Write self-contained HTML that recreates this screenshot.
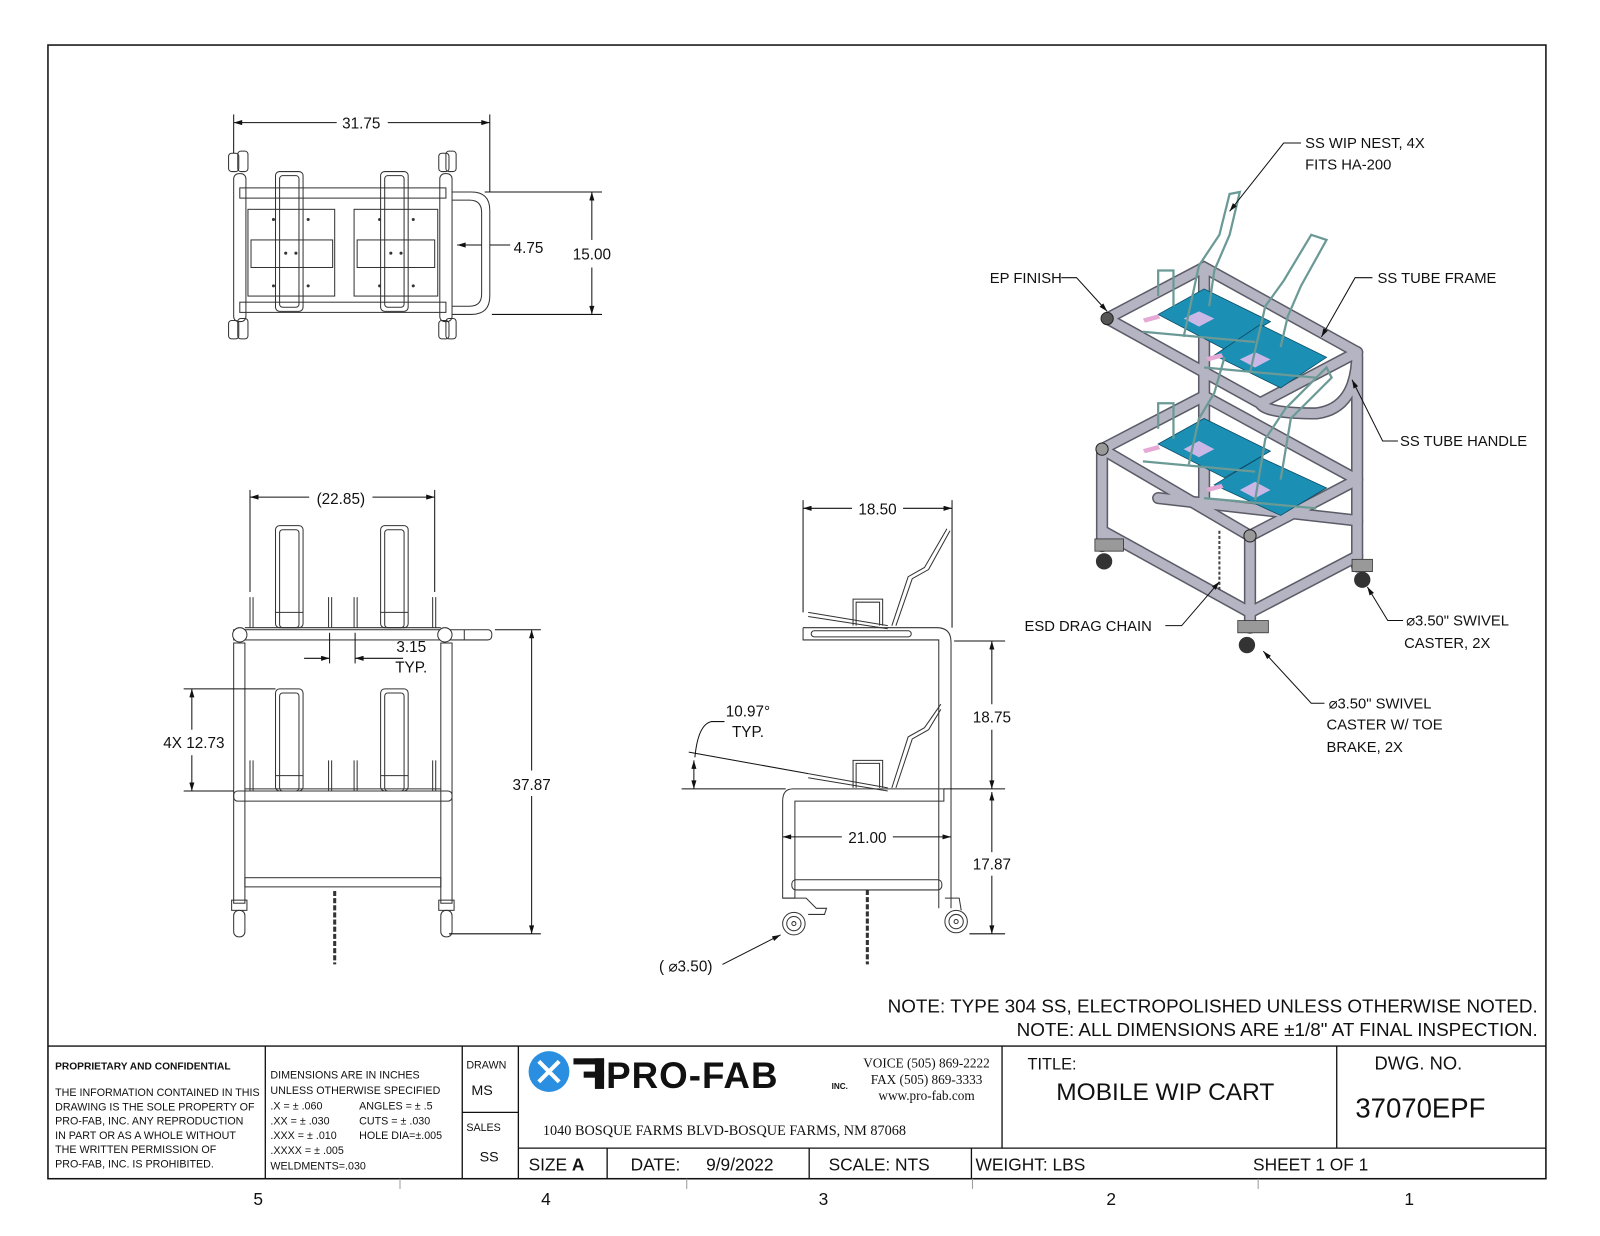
<!DOCTYPE html>
<html><head><meta charset="utf-8"><style>
html,body{margin:0;padding:0;background:#fff}
svg{display:block}
text{font-family:"Liberation Sans",sans-serif;fill:#111}
.s{font-family:"Liberation Serif",serif}
</style></head><body>
<svg width="1600" height="1236" viewBox="0 0 1568 1211" xmlns="http://www.w3.org/2000/svg" xml:space="preserve">
<defs>
<marker id="a" viewBox="0 0 10 6" refX="10" refY="3" markerWidth="12" markerHeight="5" orient="auto-start-reverse" markerUnits="userSpaceOnUse"><path d="M0,0L10,3L0,6z" fill="#111"/></marker>
</defs>
<rect width="1568" height="1211" fill="#fff"/>
<rect x="47" y="44" width="1468" height="1111" fill="none" stroke="#111" stroke-width="1.5"/>

<!-- TOP VIEW -->
<g fill="none" stroke="#333" stroke-width="1">
<rect x="229" y="170" width="12" height="145" rx="5"/>
<rect x="431" y="170" width="12" height="145" rx="5"/>
<rect x="235" y="184" width="202" height="10"/>
<rect x="235" y="296" width="202" height="10"/>
<path d="M443,188H462Q480,188 480,206V290Q480,308 462,308H443"/>
<path d="M443,196H460Q472,196 472,208V288Q472,300 460,300H443"/>
<rect x="243" y="205" width="85" height="85"/>
<rect x="347" y="205" width="82" height="85"/>
<rect x="246" y="235" width="80" height="27"/>
<rect x="350" y="235" width="76" height="27"/>
<rect x="270" y="168" width="27" height="137" rx="4"/>
<rect x="274" y="172" width="19" height="129" rx="3"/>
<rect x="373" y="168" width="27" height="137" rx="4"/>
<rect x="377" y="172" width="19" height="129" rx="3"/>
<rect x="224" y="150" width="10" height="18" rx="3"/><rect x="233" y="148" width="10" height="20" rx="3"/>
<rect x="430" y="150" width="10" height="18" rx="3"/><rect x="437" y="148" width="10" height="20" rx="3"/>
<rect x="224" y="314" width="10" height="18" rx="3"/><rect x="233" y="312" width="10" height="20" rx="3"/>
<rect x="430" y="314" width="10" height="18" rx="3"/><rect x="437" y="312" width="10" height="20" rx="3"/>
</g>
<g fill="#333"><circle cx="268" cy="215" r="1.5"/><circle cx="302" cy="215" r="1.5"/><circle cx="268" cy="280" r="1.5"/><circle cx="302" cy="280" r="1.5"/><circle cx="280" cy="248" r="1.5"/><circle cx="290" cy="248" r="1.5"/>
<circle cx="372" cy="215" r="1.5"/><circle cx="405" cy="215" r="1.5"/><circle cx="372" cy="280" r="1.5"/><circle cx="405" cy="280" r="1.5"/><circle cx="383" cy="248" r="1.5"/><circle cx="393" cy="248" r="1.5"/></g>
<g stroke="#111" stroke-width="1" fill="none">
<line x1="229" y1="112" x2="229" y2="150"/><line x1="480" y1="112" x2="480" y2="188"/>
<line x1="229" y1="120" x2="330" y2="120" marker-start="url(#a)"/><line x1="380" y1="120" x2="480" y2="120" marker-end="url(#a)"/>
<line x1="475" y1="188" x2="590" y2="188"/><line x1="482" y1="308" x2="590" y2="308"/>
<line x1="580" y1="188" x2="580" y2="235" marker-start="url(#a)"/><line x1="580" y1="262" x2="580" y2="308" marker-end="url(#a)"/>
<line x1="448" y1="240" x2="472" y2="240" marker-start="url(#a)"/><line x1="480" y1="240" x2="500" y2="240"/>
</g>
<text x="354" y="126" font-size="15" text-anchor="middle">31.75</text>
<text x="580" y="254" font-size="15" text-anchor="middle">15.00</text>
<text x="518" y="248" font-size="15" text-anchor="middle">4.75</text>

<!-- FRONT VIEW -->
<g fill="none" stroke="#333" stroke-width="1">
<rect x="229" y="617" width="212" height="10"/>
<path d="M441,617H478Q482,617 482,622Q482,627 478,627H441"/><line x1="455" y1="617" x2="455" y2="627"/>
<circle cx="235" cy="622" r="7" fill="#fff"/><circle cx="436" cy="622" r="7" fill="#fff"/>
<rect x="229" y="630" width="11" height="255"/>
<rect x="432" y="630" width="11" height="255"/>
<rect x="229" y="775" width="214" height="10" rx="4"/>
<rect x="240" y="860" width="192" height="9"/>
<rect x="270" y="515" width="27" height="100" rx="4"/><rect x="274" y="519" width="19" height="96" rx="3"/><line x1="270" y1="600" x2="297" y2="600"/>
<rect x="373" y="515" width="27" height="100" rx="4"/><rect x="377" y="519" width="19" height="96" rx="3"/><line x1="373" y1="600" x2="400" y2="600"/>
<rect x="270" y="675" width="27" height="100" rx="4"/><rect x="274" y="679" width="19" height="96" rx="3"/><line x1="270" y1="760" x2="297" y2="760"/>
<rect x="373" y="675" width="27" height="100" rx="4"/><rect x="377" y="679" width="19" height="96" rx="3"/><line x1="373" y1="760" x2="400" y2="760"/>
<path d="M245,615V585M248,615V585M322,615V585M325,615V585M347,615V585M350,615V585M424,615V585M427,615V585"/>
<path d="M245,775V745M248,775V745M322,775V745M325,775V745M347,775V745M350,775V745M424,775V745M427,775V745"/>
<line x1="240" y1="615" x2="432" y2="615"/><line x1="240" y1="773" x2="432" y2="773"/>
<rect x="227" y="882" width="15" height="10"/><rect x="229" y="892" width="11" height="26" rx="5"/>
<rect x="430" y="882" width="15" height="10"/><rect x="432" y="892" width="11" height="26" rx="5"/>
</g>
<line x1="328" y1="873" x2="328" y2="945" stroke="#333" stroke-width="3" stroke-dasharray="5,2"/>
<g stroke="#111" stroke-width="1" fill="none">
<line x1="245" y1="480" x2="245" y2="580"/><line x1="426" y1="480" x2="426" y2="580"/>
<line x1="245" y1="487" x2="303" y2="487" marker-start="url(#a)"/><line x1="365" y1="487" x2="426" y2="487" marker-end="url(#a)"/>
<line x1="323" y1="620" x2="323" y2="650"/><line x1="348" y1="620" x2="348" y2="650"/>
<line x1="298" y1="645" x2="323" y2="645" marker-end="url(#a)"/><line x1="348" y1="645" x2="395" y2="645" marker-start="url(#a)"/>
<line x1="180" y1="675" x2="270" y2="675"/><line x1="180" y1="775" x2="229" y2="775"/>
<line x1="188" y1="675" x2="188" y2="715" marker-start="url(#a)"/><line x1="188" y1="740" x2="188" y2="775" marker-end="url(#a)"/>
<line x1="485" y1="617" x2="530" y2="617"/><line x1="440" y1="915" x2="530" y2="915"/>
<line x1="521" y1="617" x2="521" y2="755" marker-start="url(#a)"/><line x1="521" y1="780" x2="521" y2="915" marker-end="url(#a)"/>
</g>
<text x="334" y="494" font-size="15" text-anchor="middle">(22.85)</text>
<text x="403" y="639" font-size="15" text-anchor="middle">3.15</text>
<text x="403" y="659" font-size="15" text-anchor="middle">TYP.</text>
<text x="190" y="733" font-size="15" text-anchor="middle">4X 12.73</text>
<text x="521" y="774" font-size="15" text-anchor="middle">37.87</text>

<!-- SIDE VIEW -->
<g fill="none" stroke="#333" stroke-width="1">
<path d="M787,615H918Q932,615 932,629V890"/>
<path d="M787,615V627H920V890"/>
<rect x="795" y="618" width="98" height="6" rx="3"/>
<path d="M925,773H777Q767,773 767,785V880H779V785H925Z"/>
<rect x="776" y="862" width="147" height="10" rx="4"/>
<line x1="792" y1="600" x2="870" y2="613"/><line x1="792" y1="604" x2="870" y2="616"/>
<path d="M836,613V587H865V613M839,613V590H862V613"/>
<path d="M874,613L890,565L906,556L928,518M878,613L894,567L910,558L931,520"/>
<line x1="792" y1="758" x2="870" y2="772"/><line x1="792" y1="762" x2="870" y2="775"/>
<path d="M836,772V745H865V772M839,772V748H862V772"/>
<path d="M874,772L890,722L906,713L922,690M878,772L894,724L910,715L922,695"/>
<circle cx="778" cy="905" r="11"/><circle cx="778" cy="905" r="7"/><circle cx="778" cy="905" r="2"/>
<circle cx="937" cy="903" r="11"/><circle cx="937" cy="903" r="7"/><circle cx="937" cy="903" r="2"/>
<path d="M767,880H790L800,890H810L808,896H792"/><path d="M926,880H940L942,892"/>
</g>
<line x1="850" y1="872" x2="850" y2="945" stroke="#333" stroke-width="3" stroke-dasharray="5,2"/>
<g stroke="#111" stroke-width="1" fill="none">
<line x1="787" y1="490" x2="787" y2="600"/><line x1="933" y1="490" x2="933" y2="615"/>
<line x1="787" y1="498" x2="835" y2="498" marker-start="url(#a)"/><line x1="885" y1="498" x2="933" y2="498" marker-end="url(#a)"/>
<line x1="935" y1="628" x2="985" y2="628"/><line x1="925" y1="773" x2="985" y2="773"/><line x1="950" y1="915" x2="985" y2="915"/>
<line x1="972" y1="628" x2="972" y2="690" marker-start="url(#a)"/><line x1="972" y1="715" x2="972" y2="773" marker-end="url(#a)"/>
<line x1="972" y1="776" x2="972" y2="835" marker-start="url(#a)"/><line x1="972" y1="858" x2="972" y2="915" marker-end="url(#a)"/>
<line x1="767" y1="820" x2="825" y2="820" marker-start="url(#a)"/><line x1="875" y1="820" x2="932" y2="820" marker-end="url(#a)"/>
<line x1="668" y1="773" x2="770" y2="773"/><line x1="675" y1="737" x2="792" y2="758"/>
<line x1="680" y1="745" x2="680" y2="773" marker-start="url(#a)" marker-end="url(#a)"/>
<path d="M681,742Q684,710 697,707H710"/>
<line x1="708" y1="945" x2="765" y2="916" marker-end="url(#a)"/>
</g>
<text x="860" y="504" font-size="15" text-anchor="middle">18.50</text>
<text x="972" y="708" font-size="15" text-anchor="middle">18.75</text>
<text x="972" y="852" font-size="15" text-anchor="middle">17.87</text>
<text x="850" y="826" font-size="15" text-anchor="middle">21.00</text>
<text x="733" y="702" font-size="15" text-anchor="middle">10.97°</text>
<text x="733" y="722" font-size="15" text-anchor="middle">TYP.</text>
<text x="672" y="952" font-size="15" text-anchor="middle">( ⌀3.50)</text>

<!-- ISO VIEW -->
<g stroke-linecap="round" fill="none">
<g stroke="#5c5c68" stroke-width="12">
<path d="M1180,265V490"/>
<path d="M1080,445V535M1225,530V615M1330,350V555"/>
<path d="M1080,520L1225,600L1330,545"/>
<path d="M1135,488L1330,510"/>
<path d="M1085,312L1180,262L1330,345M1085,312L1235,395L1330,345"/>
<path d="M1235,395Q1240,405 1290,405Q1330,400 1330,345"/>
<path d="M1080,440L1180,388L1330,470M1080,440L1225,525L1330,470"/>
</g>
<g stroke="#b4b4c2" stroke-width="9">
<path d="M1180,265V490"/>
<path d="M1080,445V535M1225,530V615M1330,350V555"/>
<path d="M1080,520L1225,600L1330,545"/>
<path d="M1135,488L1330,510"/>
<path d="M1085,312L1180,262L1330,345M1085,312L1235,395L1330,345"/>
<path d="M1235,395Q1240,405 1290,405Q1330,400 1330,345"/>
<path d="M1080,440L1180,388L1330,470M1080,440L1225,525L1330,470"/>
</g>
</g>
<g fill="#1c8fb5" stroke="#0b4d66" stroke-width="0.8">
<path d="M1135,308L1180,283L1245,315L1200,342Z"/>
<path d="M1190,348L1235,318L1300,350L1255,380Z"/>
<path d="M1135,435L1180,410L1245,442L1200,468Z"/>
<path d="M1190,475L1235,448L1300,478L1255,505Z"/>
</g>
<g fill="#c9b8e6"><path d="M1160,312L1175,305L1190,312L1175,320Z"/><path d="M1215,352L1230,345L1245,352L1230,360Z"/><path d="M1160,440L1175,432L1190,440L1175,448Z"/><path d="M1215,480L1230,472L1245,480L1230,488Z"/></g>
<g fill="#e6a9d6"><path d="M1120,312L1135,308L1137,312L1122,316Z"/><path d="M1182,350L1197,346L1199,350L1184,354Z"/><path d="M1120,440L1135,436L1137,440L1122,444Z"/><path d="M1182,478L1197,474L1199,478L1184,482Z"/></g>
<g fill="none" stroke="#6b9a96" stroke-width="2.2">
<path d="M1160,330L1175,260L1195,230L1205,190L1215,188L1205,230L1190,265L1185,300"/>
<path d="M1225,365L1240,300L1258,275L1285,230L1300,235L1275,280L1262,310L1255,340"/>
<path d="M1165,455L1175,410L1190,385L1200,350"/>
<path d="M1230,490L1240,430L1260,400L1300,360L1305,370L1265,410L1255,470"/>
<path d="M1135,290V265H1150V300M1135,420V395H1150V430"/>
<path d="M1120,325L1230,335M1180,360L1290,370M1120,452L1230,462M1180,488L1290,498"/>
</g>
<g fill="#555" stroke="#222"><circle cx="1085" cy="312" r="6"/><circle cx="1080" cy="440" r="6" fill="#999"/><circle cx="1225" cy="525" r="6" fill="#999"/></g>
<g fill="#333"><circle cx="1082" cy="550" r="8"/><circle cx="1222" cy="632" r="8"/><circle cx="1335" cy="568" r="8"/></g>
<g fill="#999" stroke="#333" stroke-width="0.8"><rect x="1073" y="528" width="28" height="12"/><rect x="1213" y="608" width="30" height="12"/><rect x="1325" y="548" width="20" height="12"/></g>
<line x1="1195" y1="520" x2="1195" y2="580" stroke="#444" stroke-width="2" stroke-dasharray="3,2"/>

<g stroke="#111" stroke-width="1" fill="none">
<path d="M1275,140H1258L1205,207" marker-end="url(#a)"/>
<path d="M1040,272H1055L1085,305" marker-end="url(#a)"/>
<path d="M1345,272H1328L1295,330" marker-end="url(#a)"/>
<path d="M1370,432H1355L1325,372" marker-end="url(#a)"/>
<path d="M1142,613H1158L1195,570" marker-end="url(#a)"/>
<path d="M1375,608H1360L1340,575" marker-end="url(#a)"/>
<path d="M1298,689H1285L1238,638" marker-end="url(#a)"/>
</g>
<g font-size="14.5">
<text x="1279" y="145">SS WIP NEST, 4X</text>
<text x="1279" y="166">FITS HA-200</text>
<text x="970" y="277">EP FINISH</text>
<text x="1350" y="277">SS TUBE FRAME</text>
<text x="1372" y="437">SS TUBE HANDLE</text>
<text x="1004" y="618">ESD DRAG CHAIN</text>
<text x="1378" y="613">⌀3.50" SWIVEL</text>
<text x="1376" y="635">CASTER, 2X</text>
<text x="1302" y="694">⌀3.50" SWIVEL</text>
<text x="1300" y="715">CASTER W/ TOE</text>
<text x="1300" y="737">BRAKE, 2X</text>
</g>

<!-- NOTES -->
<text x="1507" y="992" font-size="18.5" text-anchor="end">NOTE: TYPE 304 SS, ELECTROPOLISHED UNLESS OTHERWISE NOTED.</text>
<text x="1507" y="1015" font-size="18.5" text-anchor="end">NOTE: ALL DIMENSIONS ARE ±1/8" AT FINAL INSPECTION.</text>

<!-- TITLE BLOCK -->
<g stroke="#111" stroke-width="1.3" fill="none">
<line x1="47" y1="1025" x2="1515" y2="1025"/>
<line x1="260" y1="1025" x2="260" y2="1155"/>
<line x1="453" y1="1025" x2="453" y2="1155"/>
<line x1="508" y1="1025" x2="508" y2="1155"/>
<line x1="982" y1="1025" x2="982" y2="1125"/>
<line x1="1310" y1="1025" x2="1310" y2="1125"/>
<line x1="453" y1="1090" x2="508" y2="1090"/>
<line x1="508" y1="1125" x2="1515" y2="1125"/>
<line x1="595" y1="1125" x2="595" y2="1155"/>
<line x1="793" y1="1125" x2="793" y2="1155"/>
<line x1="952" y1="1125" x2="952" y2="1155"/>
</g>
<g stroke="#999" stroke-width="1"><line x1="392" y1="1155" x2="392" y2="1165"/><line x1="673" y1="1155" x2="673" y2="1165"/><line x1="953" y1="1155" x2="953" y2="1165"/><line x1="1233" y1="1155" x2="1233" y2="1165"/></g>
<text x="54" y="1048" font-size="10" font-weight="bold">PROPRIETARY AND CONFIDENTIAL</text>
<g font-size="10.5">
<text x="54" y="1074">THE INFORMATION CONTAINED IN THIS</text>
<text x="54" y="1088">DRAWING IS THE SOLE PROPERTY OF</text>
<text x="54" y="1102">PRO-FAB, INC.  ANY REPRODUCTION</text>
<text x="54" y="1116">IN PART OR AS A WHOLE WITHOUT</text>
<text x="54" y="1130">THE WRITTEN PERMISSION OF</text>
<text x="54" y="1144">PRO-FAB, INC. IS PROHIBITED.</text>
<text x="265" y="1057">DIMENSIONS ARE IN INCHES</text>
<text x="265" y="1072">UNLESS OTHERWISE SPECIFIED</text>
<text x="265" y="1087">.X = ± .060</text><text x="352" y="1087">ANGLES = ± .5</text>
<text x="265" y="1102">.XX = ± .030</text><text x="352" y="1102">CUTS = ± .030</text>
<text x="265" y="1116">.XXX = ± .010</text><text x="352" y="1116">HOLE DIA=±.005</text>
<text x="265" y="1131">.XXXX = ± .005</text>
<text x="265" y="1146">WELDMENTS=.030</text>
<text x="457" y="1047">DRAWN</text>
<text x="457" y="1108">SALES</text>
</g>
<text x="462" y="1073" font-size="14">MS</text>
<text x="470" y="1138" font-size="14">SS</text>
<!-- logo -->
<circle cx="538" cy="1050" r="20" fill="#2a8fe0"/>
<path d="M528,1040L548,1060M548,1040L528,1060" stroke="#fff" stroke-width="4"/>
<rect x="562" y="1037" width="30" height="6" fill="#111"/><rect x="572" y="1050" width="20" height="6" fill="#111"/><rect x="583" y="1037" width="9" height="30" fill="#111"/>
<text x="594" y="1066" font-size="36" font-weight="bold" letter-spacing="1">PRO-FAB</text>
<text x="815" y="1067" font-size="8" font-weight="bold">INC.</text>
<g font-size="13"><text x="908" y="1046" text-anchor="middle" class="s">VOICE (505) 869-2222</text>
<text x="908" y="1062" text-anchor="middle" class="s">FAX (505) 869-3333</text>
<text x="908" y="1078" text-anchor="middle" class="s">www.pro-fab.com</text>
<text x="532" y="1112" class="s" font-size="14">1040 BOSQUE FARMS BLVD-BOSQUE FARMS, NM 87068</text></g>
<text x="1007" y="1048" font-size="16">TITLE:</text>
<text x="1142" y="1078" font-size="24" text-anchor="middle">MOBILE WIP CART</text>
<text x="1390" y="1048" font-size="18" text-anchor="middle">DWG.  NO.</text>
<text x="1392" y="1095" font-size="27" text-anchor="middle">37070EPF</text>
<g font-size="17">
<text x="518" y="1147">SIZE  <tspan font-weight="bold">A</tspan></text>
<text x="618" y="1147">DATE:</text><text x="692" y="1147">9/9/2022</text>
<text x="812" y="1147">SCALE: NTS</text>
<text x="956" y="1147">WEIGHT:  LBS</text>
<text x="1228" y="1147">SHEET 1 OF 1</text>
</g>
<g font-size="17" text-anchor="middle"><text x="253" y="1181">5</text><text x="535" y="1181">4</text><text x="807" y="1181">3</text><text x="1089" y="1181">2</text><text x="1381" y="1181">1</text></g>
</svg>
</body></html>
